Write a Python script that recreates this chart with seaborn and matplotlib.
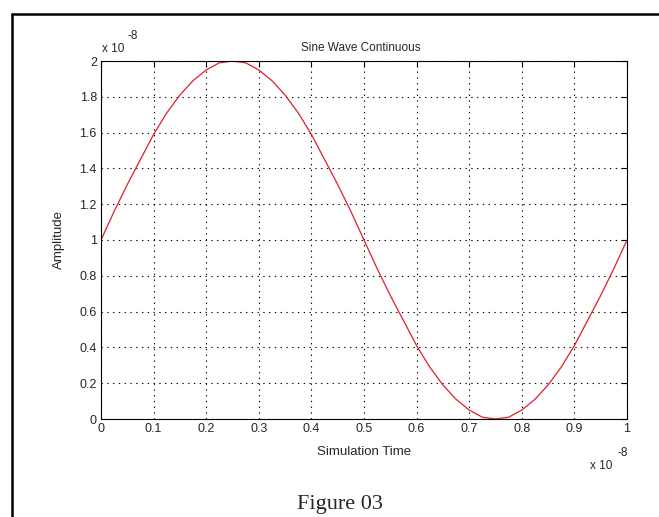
import numpy as np
import pandas as pd
import seaborn as sns
import matplotlib.pyplot as plt
from matplotlib.lines import Line2D
from matplotlib.ticker import FuncFormatter

# simulation time (x 1e-8) and amplitude (x 1e-8)
sim_time = [0.0, 0.025, 0.05, 0.075, 0.1, 0.125, 0.15, 0.175, 0.2, 0.225,
            0.25, 0.275, 0.3, 0.325, 0.35, 0.375, 0.4, 0.425, 0.45, 0.475,
            0.5, 0.525, 0.55, 0.575, 0.6, 0.625, 0.65, 0.675, 0.7, 0.725,
            0.75, 0.775, 0.8, 0.825, 0.85, 0.875, 0.9, 0.925, 0.95, 0.975, 1.0]
amplitude = [1.0, 1.16, 1.31, 1.45, 1.59, 1.71, 1.81, 1.89, 1.95, 1.99,
             2.0, 1.99, 1.95, 1.89, 1.81, 1.71, 1.59, 1.45, 1.31, 1.16,
             1.0, 0.84, 0.69, 0.55, 0.41, 0.29, 0.19, 0.11, 0.05, 0.01,
             0.0, 0.01, 0.05, 0.11, 0.19, 0.29, 0.41, 0.55, 0.69, 0.84, 1.0]
x_ticks = [0, 0.1, 0.2, 0.3, 0.4, 0.5, 0.6, 0.7, 0.8, 0.9, 1]
y_ticks = [0, 0.2, 0.4, 0.6, 0.8, 1, 1.2, 1.4, 1.6, 1.8, 2]

df = pd.DataFrame({"Simulation Time": sim_time, "Amplitude": amplitude})

sns.set_style("white")
plt.rcParams['font.family'] = ['Liberation Sans', 'DejaVu Sans']

W, H = 659, 517
fig = plt.figure(figsize=(W / 100, H / 100), dpi=100)
ax = fig.add_axes([101 / W, 1 - 419 / H, (627 - 101) / W, (419 - 61) / H])

sns.lineplot(data=df, x="Simulation Time", y="Amplitude", ax=ax,
             color='#dd1f2c', linewidth=0.9)

ax.set_xlim(0, 1)
ax.set_ylim(0, 2)
ax.set_xticks(x_ticks)
ax.set_yticks(y_ticks)
fmt = FuncFormatter(lambda v, p: '%g' % v)
ax.xaxis.set_major_formatter(fmt)
ax.yaxis.set_major_formatter(fmt)
ax.tick_params(direction='in', length=4, width=0.8, color='black',
               labelsize=9, top=True, right=True, pad=3)
ax.grid(True, color='black', linestyle=(0, (1.2, 4)), linewidth=0.8)
for s in ax.spines.values():
    s.set_color('black')
    s.set_linewidth(0.8)

ax.set_xlabel("")
ax.set_ylabel("")
fig.text(361 / W, 1 - 48 / H, "Sine Wave Continuous", ha='center', va='center', fontsize=8.5)
fig.text(364 / W, 1 - 452 / H, "Simulation Time", ha='center', va='center', fontsize=9.5)
fig.text(59 / W, 1 - 240 / H, "Amplitude", ha='center', va='center', rotation=90, fontsize=9.5)

# MATLAB-style exponent labels
fig.text(102 / W, 1 - 49 / H, "x 10", ha='left', va='center', fontsize=8.5)
fig.text(128 / W, 1 - 36 / H, "-8", ha='left', va='center', fontsize=8.5)
fig.text(590 / W, 1 - 466 / H, "x 10", ha='left', va='center', fontsize=8.5)
fig.text(617 / W, 1 - 453 / H, "-8", ha='left', va='center', fontsize=8.5)

fig.text(340 / W, 1 - 505 / H, "Figure 03", ha='center', va='center',
         fontsize=16, family=['Liberation Serif', 'DejaVu Serif'])

# outer frame (left and top edges visible)
fig.add_artist(Line2D([12 / W, 12 / W], [0, 1 - 14 / H], transform=fig.transFigure,
                      color='black', linewidth=1.8))
fig.add_artist(Line2D([12 / W, 1], [1 - 14 / H, 1 - 14 / H], transform=fig.transFigure,
                      color='black', linewidth=1.8))

fig.savefig("out.png", dpi=100, facecolor='white')
